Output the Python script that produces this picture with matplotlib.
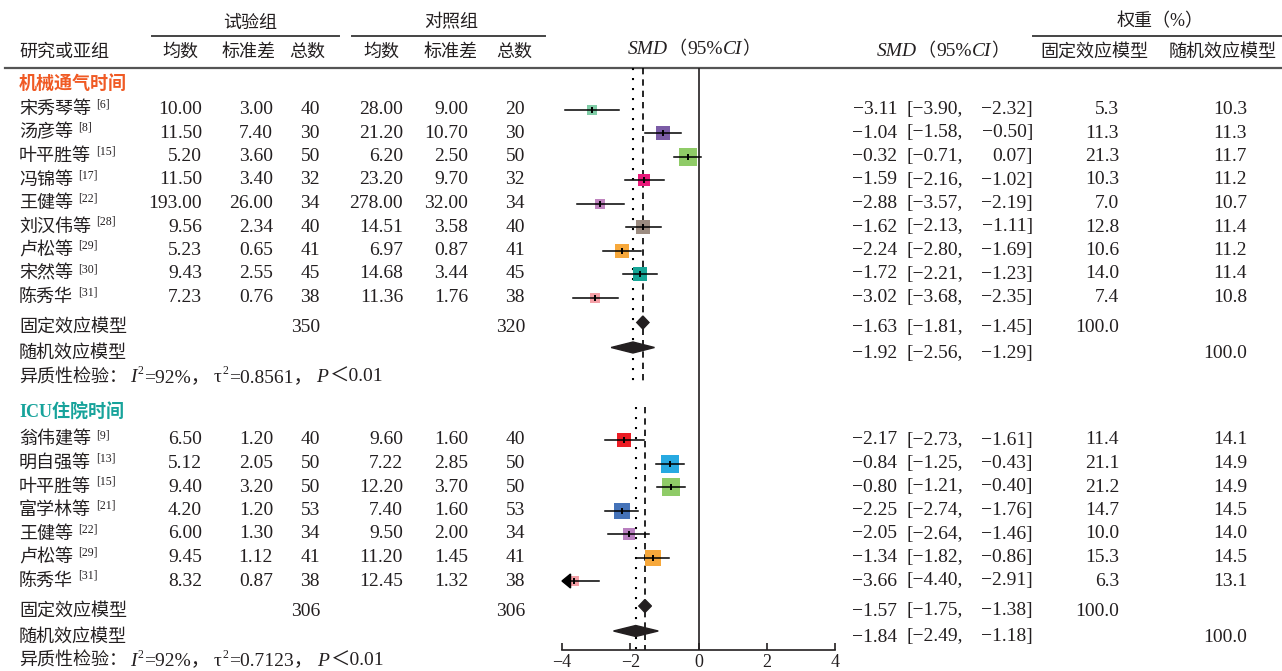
import matplotlib.pyplot as plt
from matplotlib.patches import Polygon

plt.rcParams['font.family'] = ['Liberation Serif', 'Noto Sans CJK SC']
plt.rcParams['axes.unicode_minus'] = True

W, H = 1282, 671
INK = '#231f20'
CJK = 13
NUM = 14

# ---- 机械通气时间 ----
g1_name = ['宋秀琴等', '汤彦等', '叶平胜等', '冯锦等', '王健等', '刘汉伟等', '卢松等', '宋然等', '陈秀华']
g1_ref = ['6', '8', '15', '17', '22', '28', '29', '30', '31']
g1_exp_mean = [10.00, 11.50, 5.20, 11.50, 193.00, 9.56, 5.23, 9.43, 7.23]
g1_exp_sd = [3.00, 7.40, 3.60, 3.40, 26.00, 2.34, 0.65, 2.55, 0.76]
g1_exp_n = [40, 30, 50, 32, 34, 40, 41, 45, 38]
g1_ctl_mean = [28.00, 21.20, 6.20, 23.20, 278.00, 14.51, 6.97, 14.68, 11.36]
g1_ctl_sd = [9.00, 10.70, 2.50, 9.70, 32.00, 3.58, 0.87, 3.44, 1.76]
g1_ctl_n = [20, 30, 50, 32, 34, 40, 41, 45, 38]
g1_smd = [-3.11, -1.04, -0.32, -1.59, -2.88, -1.62, -2.24, -1.72, -3.02]
g1_lo = [-3.90, -1.58, -0.71, -2.16, -3.57, -2.13, -2.80, -2.21, -3.68]
g1_hi = [-2.32, -0.50, 0.07, -1.02, -2.19, -1.11, -1.69, -1.23, -2.35]
g1_wf = [5.3, 11.3, 21.3, 10.3, 7.0, 12.8, 10.6, 14.0, 7.4]
g1_wr = [10.3, 11.3, 11.7, 11.2, 10.7, 11.4, 11.2, 11.4, 10.8]
g1_colors = ['#7fcca6', '#7b5ca6', '#8fcb67', '#e8197a', '#c084bf',
             '#9b8b80', '#f7a83b', '#16a697', '#f49fa6']
g1_total = [350, 320]
g1_fixed = [-1.63, -1.81, -1.45]
g1_random = [-1.92, -2.56, -1.29]
g1_het = ['92%', '0.8561', '0.01']

# ---- ICU住院时间 ----
g2_name = ['翁伟建等', '明自强等', '叶平胜等', '富学林等', '王健等', '卢松等', '陈秀华']
g2_ref = ['9', '13', '15', '21', '22', '29', '31']
g2_exp_mean = [6.50, 5.12, 9.40, 4.20, 6.00, 9.45, 8.32]
g2_exp_sd = [1.20, 2.05, 3.20, 1.20, 1.30, 1.12, 0.87]
g2_exp_n = [40, 50, 50, 53, 34, 41, 38]
g2_ctl_mean = [9.60, 7.22, 12.20, 7.40, 9.50, 11.20, 12.45]
g2_ctl_sd = [1.60, 2.85, 3.70, 1.60, 2.00, 1.45, 1.32]
g2_ctl_n = [40, 50, 50, 53, 34, 41, 38]
g2_smd = [-2.17, -0.84, -0.80, -2.25, -2.05, -1.34, -3.66]
g2_lo = [-2.73, -1.25, -1.21, -2.74, -2.64, -1.82, -4.40]
g2_hi = [-1.61, -0.43, -0.40, -1.76, -1.46, -0.86, -2.91]
g2_wf = [11.4, 21.1, 21.2, 14.7, 10.0, 15.3, 6.3]
g2_wr = [14.1, 14.9, 14.9, 14.5, 14.0, 14.5, 13.1]
g2_colors = ['#ec1c24', '#27a9e1', '#8fcb67', '#4472b8', '#b97fc0', '#f7a83b', '#f49fa6']
g2_total = [306, 306]
g2_fixed = [-1.57, -1.75, -1.38]
g2_random = [-1.84, -2.49, -1.18]
g2_het = ['92%', '0.7123', '0.01']

ticks = [-4, -2, 0, 2, 4]

groups = [
    dict(title='机械通气时间', tcolor='#f05a24', name=g1_name, ref=g1_ref,
         cols=[g1_exp_mean, g1_exp_sd, g1_exp_n, g1_ctl_mean, g1_ctl_sd, g1_ctl_n],
         smd=g1_smd, lo=g1_lo, hi=g1_hi, wf=g1_wf, wr=g1_wr, colors=g1_colors,
         total=g1_total, fixed=g1_fixed, random=g1_random, het=g1_het,
         head_y=84, y0=109.5, top=68, bottom=385),
    dict(title='ICU住院时间', tcolor='#17a39b', name=g2_name, ref=g2_ref,
         cols=[g2_exp_mean, g2_exp_sd, g2_exp_n, g2_ctl_mean, g2_ctl_sd, g2_ctl_n],
         smd=g2_smd, lo=g2_lo, hi=g2_hi, wf=g2_wf, wr=g2_wr, colors=g2_colors,
         total=g2_total, fixed=g2_fixed, random=g2_random, het=g2_het,
         head_y=413, y0=440, top=407, bottom=650),
]
step = 23.5
col_right = [202, 273, 320, 403, 468, 525]


def fmt(v, d=2):
    return f'{v:.{d}f}'.replace('-', '\u2212')


fig = plt.figure(figsize=(W / 100, H / 100), dpi=100)
renderer = fig.canvas.get_renderer()

ax0 = fig.add_axes([0, 0, 1, 1])
ax0.set_xlim(0, W)
ax0.set_ylim(H, 0)
ax0.axis('off')

axf = fig.add_axes([562 / W, (H - 650) / H, 273 / W, 650 / H])
axf.set_facecolor('none')
axf.set_xlim(-4, 4)
axf.set_ylim(650, 0)
for s in ['top', 'left', 'right']:
    axf.spines[s].set_visible(False)
axf.spines['bottom'].set_linewidth(1.2)
axf.spines['bottom'].set_color(INK)
axf.set_yticks([])
axf.set_xticks(ticks)
axf.tick_params(axis='x', direction='in', length=5, width=1.2, color=INK,
                labelsize=13, labelcolor=INK, pad=3)


def txt(x, y, s, size=NUM, ha='left', color=INK, **kw):
    return ax0.text(x, y, s, fontsize=size, ha=ha, va='center', color=color, **kw)


def rich(x, y, parts, ha='left'):
    # parts: (text, size, style, dy, gap after)
    items = []
    for s, size, style, dy, gap in parts:
        t = ax0.text(0, y + dy, s, fontsize=size, fontstyle=style, va='center', color=INK)
        items.append((t, t.get_window_extent(renderer).width + gap))
    total = sum(w for _, w in items)
    start = {'left': x, 'center': x - total / 2, 'right': x - total}[ha]
    for t, w in items:
        t.set_x(start)
        start += w


# ---- header ----
txt(250, 23, '试验组', CJK, 'center')
txt(451, 23, '对照组', CJK, 'center')
txt(1160, 22, '权重（%）', CJK, 'center')
ax0.plot([152, 339], [36, 36], color='#444444', lw=1.4)
ax0.plot([352, 545], [36, 36], color='#444444', lw=1.4)
ax0.plot([1033, W], [36, 36], color='#444444', lw=1.4)
txt(19, 52, '研究或亚组', CJK)
for x, s in zip([180, 249, 307, 381, 451, 514], ['均数', '标准差', '总数'] * 2):
    txt(x, 52, s, CJK, 'center')
smd_head = [('SMD', NUM, 'italic', 0, 0), ('（', CJK, 'normal', 0, 1),
            ('95%', NUM, 'normal', 0, 0), ('CI', NUM, 'italic', 0, 0), ('）', CJK, 'normal', 0, 0)]
rich(694, 50, smd_head, 'center')
rich(943, 52, smd_head, 'center')
txt(1040, 52, '固定效应模型', CJK)
txt(1169, 52, '随机效应模型', CJK)
ax0.plot([5, W], [68, 68], color='#555555', lw=1.6)

# ---- groups ----
for g in groups:
    ys = [g['y0'] + i * step for i in range(len(g['name']))]
    txt(19, g['head_y'], g['title'], CJK, color=g['tcolor'], fontweight='bold')

    for i, y in enumerate(ys):
        rich(19, y, [(g['name'][i], CJK, 'normal', 0, 5),
                     ('[' + g['ref'][i] + ']', 8.5, 'normal', -5, 0)])
        for k, (xr, col) in enumerate(zip(col_right, g['cols'])):
            v = col[i]
            txt(xr, y, str(v) if k in (2, 5) else fmt(v), ha='right')
        txt(897, y, fmt(g['smd'][i]), ha='right')
        txt(963, y, '[' + fmt(g['lo'][i]) + ',', ha='right')
        txt(1033, y, fmt(g['hi'][i]) + ']', ha='right')
        txt(1119, y, fmt(g['wf'][i], 1), ha='right')
        txt(1247, y, fmt(g['wr'][i], 1), ha='right')

        # forest marks
        side = 4.0 * g['wf'][i] ** 0.5
        axf.scatter(g['smd'][i], y, marker='s', s=(side * 0.72) ** 2, color=g['colors'][i],
                    linewidths=0, zorder=2, clip_on=False)
        lo = g['lo'][i]
        xmin = axf.get_xlim()[0]
        if lo < xmin:
            axf.add_patch(Polygon([(xmin, y), (xmin + 0.25, y - 7), (xmin + 0.25, y + 7)],
                                  closed=True, color='black', zorder=3, clip_on=False))
            lo = xmin + 0.25
        axf.plot([lo, g['hi'][i]], [y, y], color='black', lw=1.1, zorder=3)
        axf.plot(g['smd'][i], y, marker='|', ms=4.5, mew=1.4, color='black', zorder=4)

    fy = ys[-1] + 30
    ry = fy + 26
    hy = ry + 24
    txt(19, fy, '固定效应模型', CJK)
    txt(320, fy, str(g['total'][0]), ha='right')
    txt(525, fy, str(g['total'][1]), ha='right')
    txt(897, fy, fmt(g['fixed'][0]), ha='right')
    txt(963, fy, '[' + fmt(g['fixed'][1]) + ',', ha='right')
    txt(1033, fy, fmt(g['fixed'][2]) + ']', ha='right')
    txt(1119, fy, '100.0', ha='right')

    txt(19, ry, '随机效应模型', CJK)
    txt(897, ry, fmt(g['random'][0]), ha='right')
    txt(963, ry, '[' + fmt(g['random'][1]) + ',', ha='right')
    txt(1033, ry, fmt(g['random'][2]) + ']', ha='right')
    txt(1247, ry, '100.0', ha='right')

    i2, tau2, p = g['het']
    rich(19, hy, [('异质性检验：', CJK, 'normal', 0, 3), ('I', NUM, 'italic', 0, 1),
                  ('2', 8.5, 'normal', -6, 1), ('=' + i2 + '，', NUM, 'normal', 0, 3),
                  ('τ', NUM, 'normal', 0, 1), ('2', 8.5, 'normal', -6, 1),
                  ('=' + tau2 + '，', NUM, 'normal', 0, 3), ('P', NUM, 'italic', 0, 2),
                  ('＜' + p, NUM, 'normal', 0, 0)])

    # summary diamonds
    for (est, l, h), dy, hh in [(g['fixed'], fy - 5, 13), (g['random'], ry - 6, 11)]:
        axf.add_patch(Polygon([(l, dy), (est, dy - hh / 2), (h, dy), (est, dy + hh / 2)],
                              closed=True, color=INK, zorder=4, clip_on=False))

    axf.vlines(g['random'][0], g['top'], g['bottom'], color='black', lw=1.5,
               linestyles=(0, (1, 3.8)), zorder=1)
    axf.vlines(g['fixed'][0], g['top'], g['bottom'], color='black', lw=1.2,
               linestyles=(0, (3.8, 3.0)), zorder=1)

axf.vlines(0, 68, 650, color=INK, lw=1.2, zorder=1)

fig.savefig('out.png', dpi=100)
